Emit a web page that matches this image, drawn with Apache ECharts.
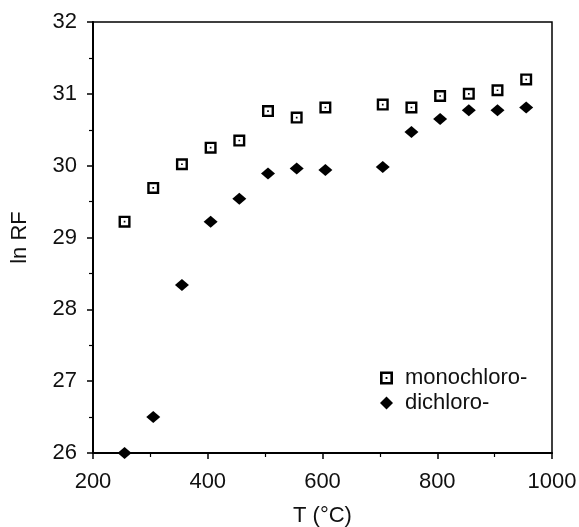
<!DOCTYPE html>
<html>
<head>
<meta charset="utf-8">
<script src="https://cdn.jsdelivr.net/npm/echarts@6/dist/echarts.min.js"></script>
<style>
  html, body { margin: 0; padding: 0; background: #fff; }
  #chart { width: 579px; height: 527px; }
</style>
</head>
<body>
<div id="chart"></div>
<script>
// temperatures (°C) and ln RF values
const monoT = [255, 305, 355, 405, 455, 505, 555, 605, 705, 755, 805, 855, 905, 955]
const monoRF = [29.22, 29.69, 30.02, 30.25, 30.35, 30.76, 30.67, 30.81, 30.85, 30.81, 30.97, 31.0, 31.05, 31.2]
const diT = [255, 305, 355, 405, 455, 505, 555, 605, 705, 755, 805, 855, 905, 955]
const diRF = [26.0, 26.5, 28.34, 29.22, 29.54, 29.89, 29.96, 29.94, 29.98, 30.47, 30.65, 30.77, 30.77, 30.81]

const font = 'Liberation Sans, Arial, Helvetica, sans-serif'
// hollow square with a dot in the middle
const boxDot = 'path://M0,0 H10 V10 H0 Z M2,2 V8 H8 V2 Z M4.3,4.3 H5.7 V5.7 H4.3 Z'

const mychart = echarts.init(document.getElementById('chart'))
const option = {
  animation: false,
  textStyle: { fontFamily: font, color: '#000' },
  grid: {
    left: 93,
    right: 27,
    top: 22,
    bottom: 74,
    containLabel: false,
    outerBoundsMode: 'none',
    show: true,
    borderColor: '#000',
    borderWidth: 1.5
  },
  legend: {
    orient: 'vertical',
    left: 375,
    top: 362,
    itemGap: 3,
    itemWidth: 13,
    itemHeight: 13,
    textStyle: { fontFamily: font, fontSize: 22, color: '#111', padding: [0, 0, 0, 7] },
    data: [
      { name: 'monochloro-', icon: boxDot, itemStyle: { color: '#000', opacity: 1 } },
      { name: 'dichloro-', icon: 'diamond', itemStyle: { color: '#000', opacity: 1 } }
    ]
  },
  xAxis: {
    type: 'value',
    min: 200,
    max: 1000,
    interval: 200,
    name: 'T (°C)',
    nameLocation: 'middle',
    nameGap: 52,
    nameTextStyle: { fontSize: 22, color: '#111' },
    axisLine: { show: true, onZero: false, lineStyle: { color: '#000', width: 2 } },
    axisTick: { show: true, length: 6, lineStyle: { color: '#000', width: 1.5 } },
    minorTick: { show: true, splitNumber: 2, length: 4, lineStyle: { color: '#000', width: 1.2 } },
    axisLabel: { fontSize: 22, color: '#111', margin: 18, formatter: v => String(v) },
    splitLine: { show: false }
  },
  yAxis: {
    type: 'value',
    min: 26,
    max: 32,
    interval: 1,
    name: 'ln RF',
    nameLocation: 'middle',
    nameGap: 62,
    nameTextStyle: { fontSize: 22, color: '#111' },
    axisLine: { show: true, onZero: false, lineStyle: { color: '#000', width: 2 } },
    axisTick: { show: true, length: 6, lineStyle: { color: '#000', width: 1.5 } },
    minorTick: { show: true, splitNumber: 2, length: 4, lineStyle: { color: '#000', width: 1.2 } },
    axisLabel: { fontSize: 22, color: '#111', margin: 16 },
    splitLine: { show: false }
  },
  series: [
    {
      name: 'monochloro-',
      type: 'scatter',
      symbol: boxDot,
      symbolSize: 12,
      itemStyle: { color: '#000', opacity: 1 },
      data: monoT.map((t, i) => [t, monoRF[i]])
    },
    {
      name: 'dichloro-',
      type: 'scatter',
      symbol: 'diamond',
      symbolSize: [14, 12],
      itemStyle: { color: '#000', opacity: 1 },
      data: diT.map((t, i) => [t, diRF[i]])
    }
  ]
}
mychart.setOption(option)
window.addEventListener('resize', function () {
  mychart.resize()
})
</script>
</body>
</html>
